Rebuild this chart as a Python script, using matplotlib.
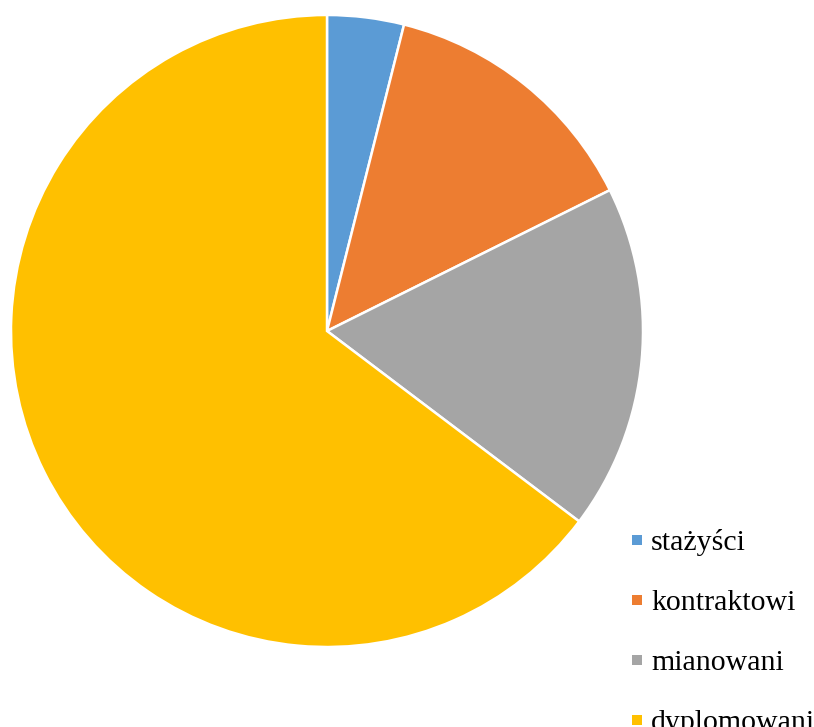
import matplotlib.pyplot as plt
from matplotlib.lines import Line2D

labels = ['stażyści', 'kontraktowi', 'mianowani', 'dyplomowani']
counts = [2, 7, 9, 33]
colors = ['#5B9BD5', '#ED7D31', '#A5A5A5', '#FFC000']

W, H = 814, 727
fig = plt.figure(figsize=(W / 100, H / 100), dpi=100)

cx, cy, r = 327, 331, 316
ax = fig.add_axes([(cx - r) / W, (H - cy - r) / H, 2 * r / W, 2 * r / H])
ax.pie(counts, colors=colors, startangle=90, counterclock=False,
       radius=1, wedgeprops=dict(edgecolor='white', linewidth=1.8))
ax.set_xlim(-1, 1)
ax.set_ylim(-1, 1)
ax.set_aspect('equal')
ax.axis('off')

handles = [Line2D([], [], ls='none', marker='s', markersize=7.2,
                  markerfacecolor=c, markeredgewidth=0) for c in colors]
fig.legend(handles, labels, loc='upper left', bbox_to_anchor=(632 / W, (H - 529) / H),
           frameon=False, handlelength=0.34, handletextpad=0.3,
           labelspacing=1.11, borderpad=0, borderaxespad=0,
           prop=dict(family='Liberation Serif', size=21.5))

fig.savefig('out.png', dpi=100)
